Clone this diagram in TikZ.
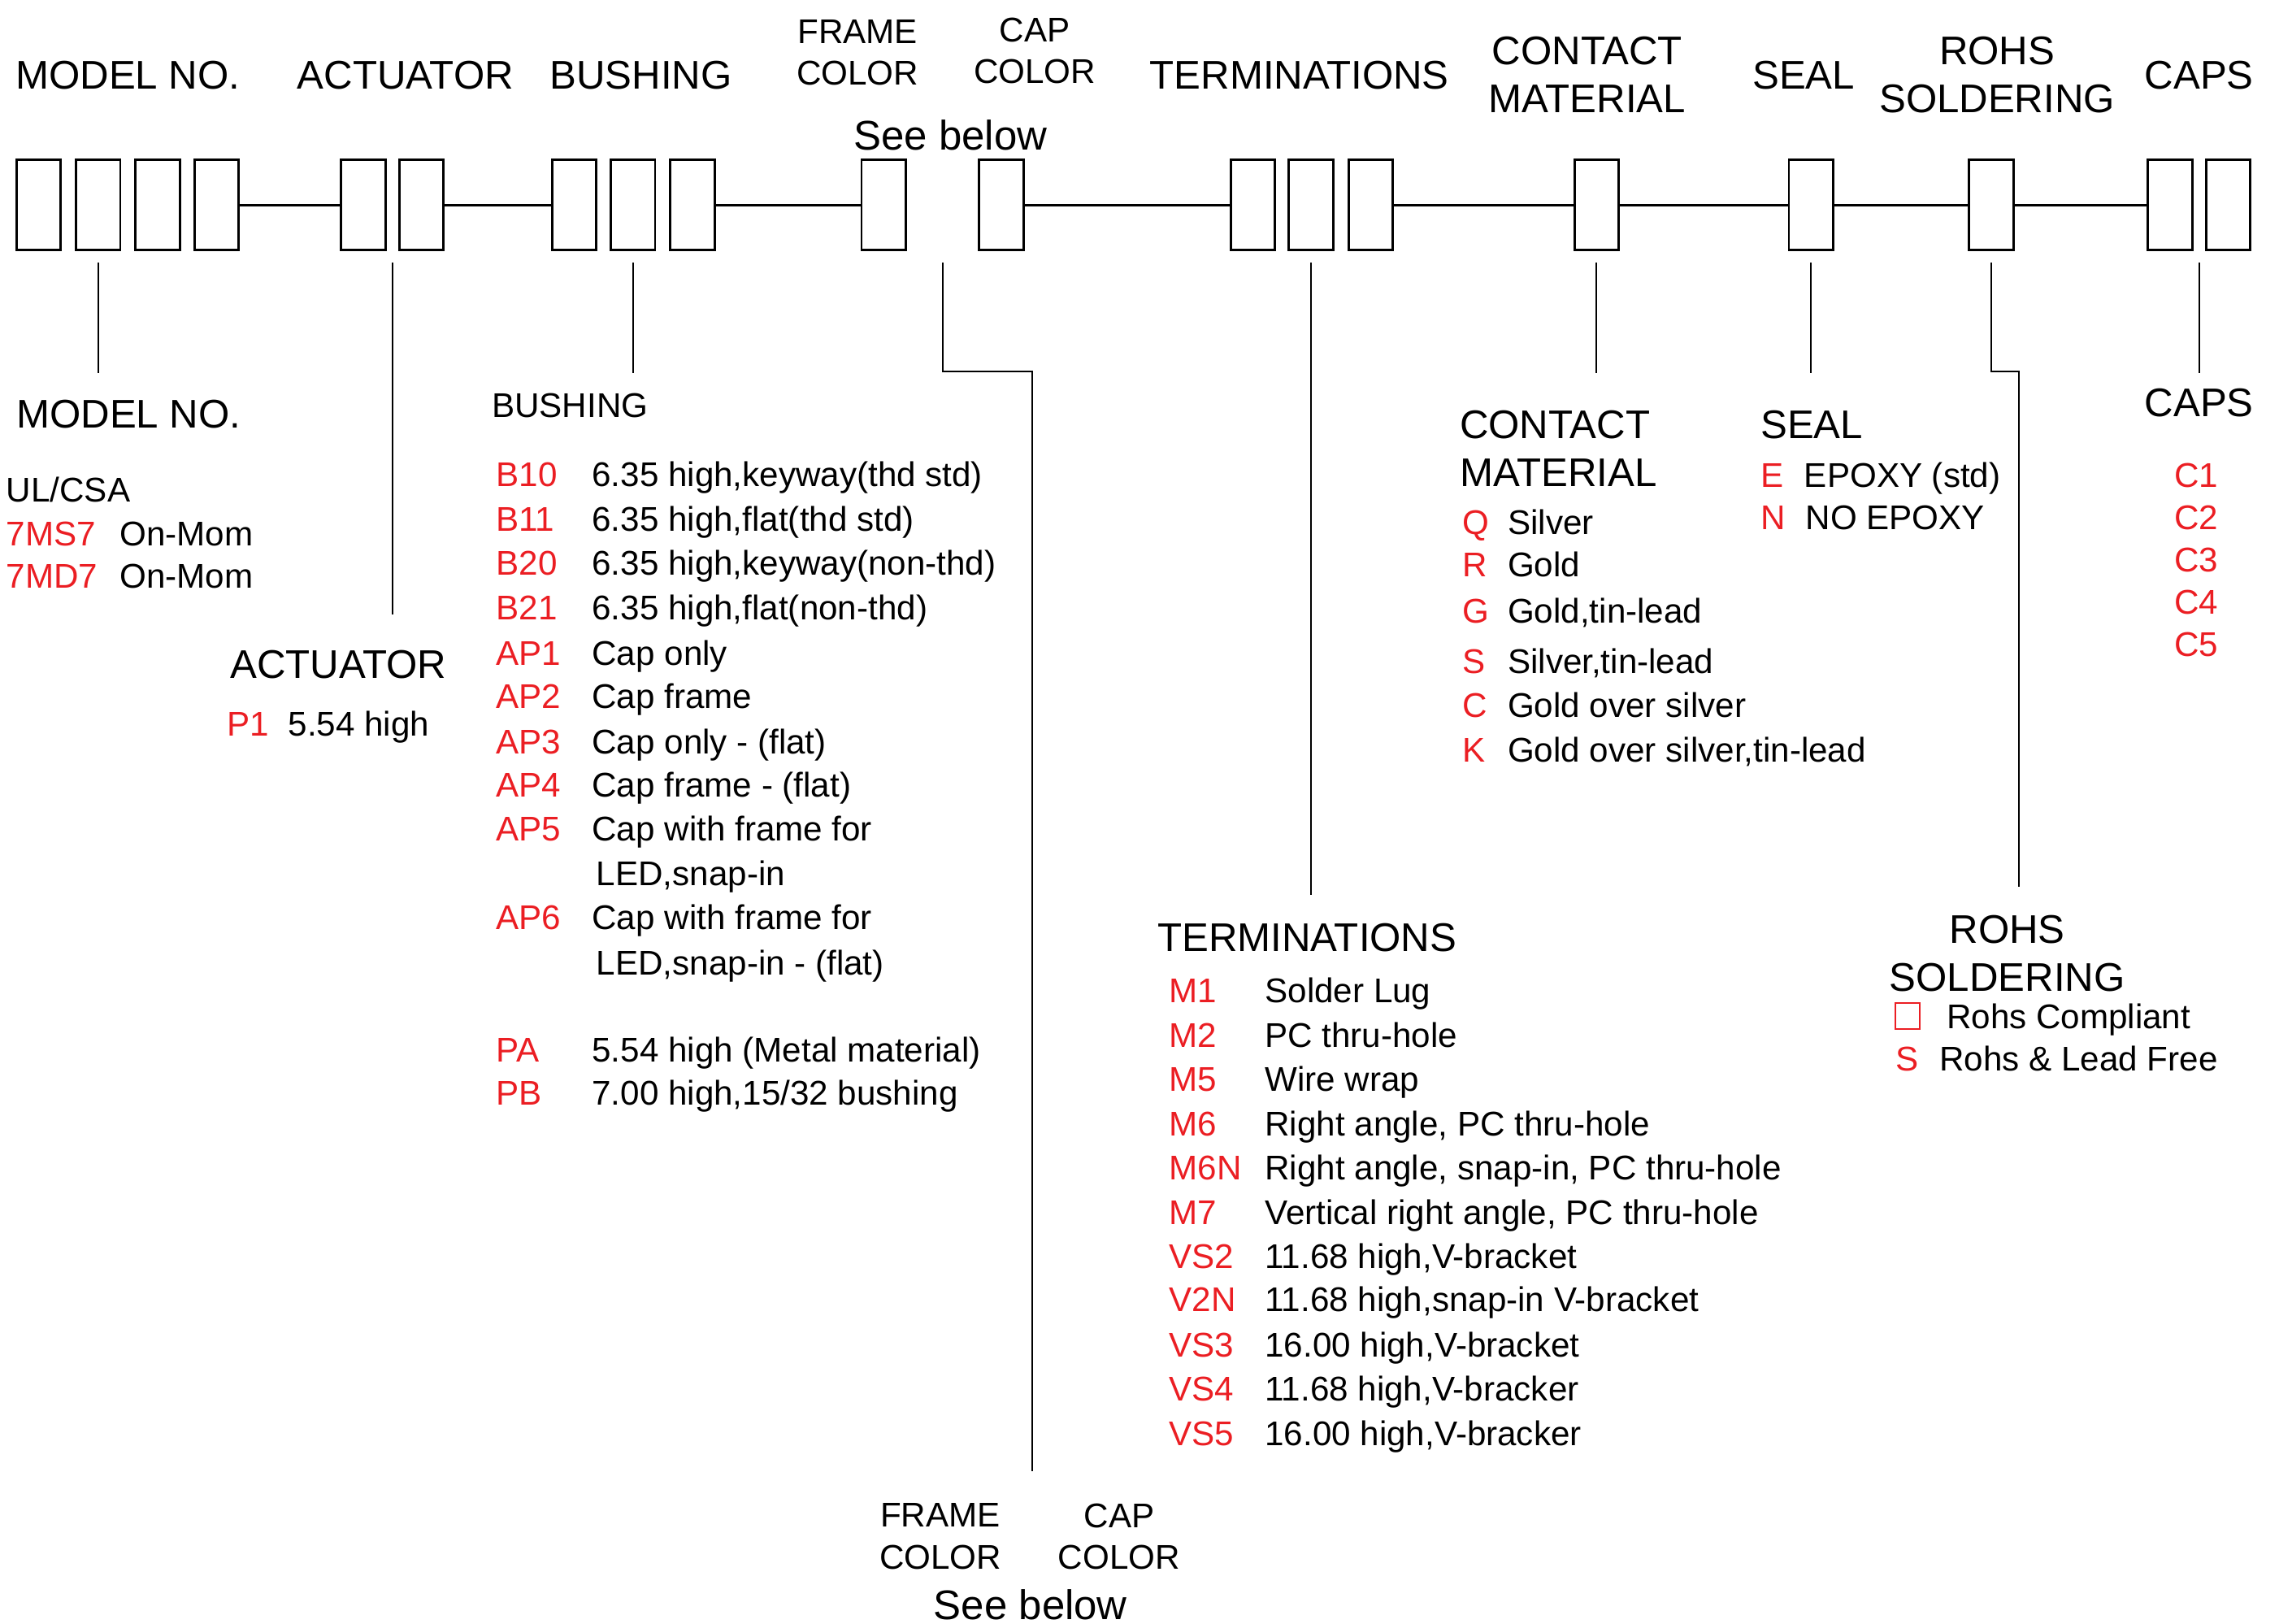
\documentclass[tikz,border=0pt]{standalone}
\usepackage{fontspec}
\setmainfont{Liberation Sans}
\usetikzlibrary{calc}
\definecolor{codered}{RGB}{235,30,35}
\tikzset{
  cell/.style={draw, line width=0.8pt, minimum width=0.545cm, minimum height=1.109cm, inner sep=0pt},
  link/.style={line width=0.8pt},
  lead/.style={line width=0.6pt},
  head/.style={font=\fontsize{14}{16.8}\selectfont, inner sep=0pt, align=center},
  headsm/.style={font=\fontsize{12}{14.6}\selectfont, inner sep=0pt, align=center},
  code/.style={font=\fontsize{12}{14}\selectfont, text=codered, inner sep=0pt, anchor=base west},
  desc/.style={font=\fontsize{12}{14}\selectfont, inner sep=0pt, anchor=base west},
}

\begin{document}
\begin{tikzpicture}[x=0.017883cm, y=-0.017883cm]
\useasboundingbox (0,0) rectangle (1568,1117);

% part number boxes
\node[cell] (m1) at (26.5,141) {};
\node[cell] (m2) at (67.5,141) {};
\node[cell] (m3) at (108.5,141) {};
\node[cell] (m4) at (149,141) {};
\node[cell] (a1) at (250,141) {};
\node[cell] (a2) at (290,141) {};
\node[cell] (b1) at (395,141) {};
\node[cell] (b2) at (435.5,141) {};
\node[cell] (b3) at (476.5,141) {};
\node[cell] (f1) at (608,141) {};
\node[cell] (k1) at (689,141) {};
\node[cell] (t1) at (862,141) {};
\node[cell] (t2) at (902,141) {};
\node[cell] (t3) at (943,141) {};
\node[cell] (cm1) at (1098.5,141) {};
\node[cell] (s1) at (1246,141) {};
\node[cell] (r1) at (1370,141) {};
\node[cell] (c1) at (1493,141) {};
\node[cell] (c2) at (1533,141) {};

\draw[link] (m4.east) -- (a1.west);
\draw[link] (a2.east) -- (b1.west);
\draw[link] (b3.east) -- (f1.west);
\draw[link] (k1.east) -- (t1.west);
\draw[link] (t3.east) -- (cm1.west);
\draw[link] (cm1.east) -- (s1.west);
\draw[link] (s1.east) -- (r1.west);
\draw[link] (r1.east) -- (c1.west);

% headings over the boxes
\node[head] (hmodel) at (88,52) {MODEL NO.};
\node[head] (hact) at (279,52) {ACTUATOR};
\node[head] (hbush) at (441,52) {BUSHING};
\node[headsm] (hframe) at (590,36) {FRAME\\COLOR};
\node[headsm] (hcap) at (712,35) {CAP\\COLOR};
\node[head, font=\fontsize{14.5}{17}\selectfont] (hsee) at (654,93) {See below};
\node[head] (hterm) at (894,52) {TERMINATIONS};
\node[head] (hcont) at (1092,51.5) {CONTACT\\MATERIAL};
\node[head] (hseal) at (1241,52) {SEAL};
\node[head] (hrohs) at (1374,51.5) {ROHS\\SOLDERING};
\node[head] (hcaps) at (1513,52) {CAPS};

% leaders
\draw[lead] (m2.south) ++(0,8) -- ++(0,76);
\draw[lead] ($(a1.south)!.5!(a2.south)$) ++(0,8) -- ++(0,242);
\draw[lead] (b2.south) ++(0,8) -- ++(0,76);
\coordinate (fcend) at (710,1012);
\draw[lead] ($(f1.south)!.5!(k1.south)$) ++(0,8) -- ++(0,75) -| (fcend);
\draw[lead] (t2.south) ++(0,8) -- ++(0,435);
\draw[lead] (cm1.south) ++(0,8) -- ++(0,76);
\draw[lead] (s1.south) ++(0,8) -- ++(0,76);
\coordinate (rohsend) at (1389,610);
\draw[lead] (r1.south) ++(0,8) -- ++(0,75) -| (rohsend);
\draw[lead] ($(c1.south)!.5!(c2.south)$) ++(0,8) -- ++(0,76);

% model no.
\node[head, anchor=west] (lmodel) at (11,285) {MODEL NO.};
\node[desc] (ulcsa) at (4,345.5) {UL/CSA};
\node[code] (mc1) at (4,375.5) {7MS7};
\node[desc] (md1) at (82,375.5) {On-Mom};
\node[code] (mc2) at (4,404.5) {7MD7};
\node[desc] (md2) at (82,404.5) {On-Mom};

% actuator
\node[head, anchor=west] (lact) at (158,457) {ACTUATOR};
\node[code] (ac1) at (156,506.5) {P1};
\node[desc] (ad1) at (198,506.5) {5.54 high};

% bushing
\node[headsm, anchor=west] (lbush) at (338,279) {BUSHING};
\foreach \y/\c/\d [count=\i] in {326/B10/{6.35 high,keyway(thd std)},
    357/B11/{6.35 high,flat(thd std)}, 387/B20/{6.35 high,keyway(non-thd)},
    418/B21/{6.35 high,flat(non-thd)}, 449/AP1/{Cap only}, 479/AP2/{Cap frame},
    510/AP3/{Cap only - (flat)}, 540/AP4/{Cap frame - (flat)},
    570/AP5/{Cap with frame for}, 631/AP6/{Cap with frame for},
    722/PA/{5.54 high (Metal material)}, 752/PB/{7.00 high,15/32 bushing}}{
  \node[code] (bc\i) at (341,\y+8.5) {\c};
  \node[desc] (bd\i) at (407,\y+8.5) {\d};
}
\node[desc] (bled1) at (410,609.5) {LED,snap-in};
\node[desc] (bled2) at (410,670.5) {LED,snap-in - (flat)};

% terminations
\node[head, anchor=west] (lterm) at (796,645) {TERMINATIONS};
\foreach \y/\c/\d [count=\i] in {681/M1/{Solder Lug}, 712/M2/{PC thru-hole},
    742/M5/{Wire wrap}, 773/M6/{Right angle, PC thru-hole},
    803/M6N/{Right angle, snap-in, PC thru-hole},
    834/M7/{Vertical right angle, PC thru-hole},
    864/VS2/{11.68 high,V-bracket}, 894/V2N/{11.68 high,snap-in V-bracket},
    925/VS3/{16.00 high,V-bracket}, 955/VS4/{11.68 high,V-bracker},
    986/VS5/{16.00 high,V-bracker}}{
  \node[code] (tc\i) at (804,\y+8.5) {\c};
  \node[desc] (td\i) at (870,\y+8.5) {\d};
}

% contact material
\node[head, align=left, anchor=west] (lcont) at (1004,308.5) {CONTACT\\MATERIAL};
\foreach \y/\c/\d [count=\i] in {359/Q/Silver, 388/R/Gold, 420/G/{Gold,tin-lead},
    455/S/{Silver,tin-lead}, 485/C/{Gold over silver},
    516/K/{Gold over silver,tin-lead}}{
  \node[code] (cc\i) at (1006,\y+8.5) {\c};
  \node[desc] (cd\i) at (1037,\y+8.5) {\d};
}

% seal
\node[head, anchor=west] (lseal) at (1211,292) {SEAL};
\node[code] (sc1) at (1211,335.5) {E};
\node[desc] (sd1) at (1241,335.5) {EPOXY (std)};
\node[code] (sc2) at (1211,364.5) {N};
\node[desc] (sd2) at (1242,364.5) {NO EPOXY};

% rohs soldering
\node[head] (lrohs) at (1381,656) {ROHS\\SOLDERING};
\node[draw=codered, line width=0.6pt, minimum width=0.30cm, minimum height=0.32cm,
  inner sep=0pt] (rbox) at (1312.5,699) {};
\node[desc] (rd1) at (1339,707.5) {Rohs Compliant};
\node[code] (rc2) at (1304,736.5) {S};
\node[desc] (rd2) at (1334,736.5) {Rohs \& Lead Free};

% caps
\node[head] (lcaps) at (1513,277) {CAPS};
\foreach \y [count=\i] in {327,356,385,414,443}{
  \node[code, anchor=base] (cp\i) at (1511,\y+8.5) {C\i};
}

% frame / cap colour, bottom
\node[headsm] (bframe) at (647,1057) {FRAME\\COLOR};
\node[headsm] (bcap) at (770,1057) {CAP\\COLOR};
\node[head, font=\fontsize{14.5}{17}\selectfont] (bsee) at (709,1104) {See below};
\end{tikzpicture}
\end{document}
